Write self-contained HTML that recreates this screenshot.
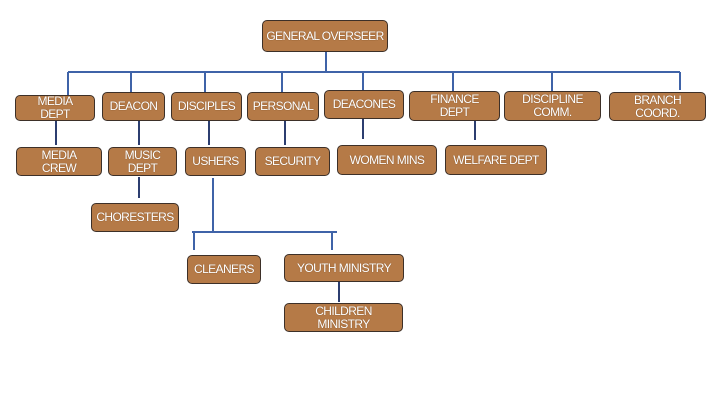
<!DOCTYPE html>
<html><head><style>
body{margin:0;width:720px;height:405px;background:#fff;position:relative;overflow:hidden;font-family:"Liberation Sans",sans-serif}
.b{position:absolute;box-sizing:border-box;background:#b57a47;border:1.5px solid #3d3028;border-radius:5px;color:#fff;font-size:12px;letter-spacing:-0.6px;display:flex;align-items:center;justify-content:center;text-align:center;line-height:13px;text-shadow:0 0 1px #6b4423;white-space:nowrap}
svg{position:absolute;left:0;top:0}
</style></head><body>
<svg width="720" height="405">
<g stroke="#3f63a8" stroke-width="2" fill="none">
<path d="M326 52V72M68 72H680"/>
<path d="M68 72V95M131 72V92M205 72V92M282 72V92M363 72V90M453 72V91M552 72V91M680 72V90"/>
</g>
<g stroke="#2c3e70" stroke-width="2" fill="none">
<path d="M56 121V145M139 121V145M209 121V145M285 121V145M363 119V139M475 121V140M139 177V198M339 282V302"/>
</g>
<g stroke="#3f63a8" stroke-width="2" fill="none">
<path d="M213 178V232M192 232H337M194 232V250M332 232V250"/>
</g>
</svg>
<div class="b" style="left:262px;top:20px;width:126px;height:32px">GENERAL OVERSEER</div>
<div class="b" style="left:15px;top:95px;width:80px;height:26px">MEDIA<br>DEPT</div>
<div class="b" style="left:102px;top:92px;width:63px;height:29px">DEACON</div>
<div class="b" style="left:171px;top:92px;width:71px;height:29px">DISCIPLES</div>
<div class="b" style="left:247px;top:92px;width:72px;height:29px">PERSONAL</div>
<div class="b" style="left:324px;top:90px;width:80px;height:29px">DEACONES</div>
<div class="b" style="left:409px;top:91px;width:91px;height:30px">FINANCE<br>DEPT</div>
<div class="b" style="left:504px;top:91px;width:97px;height:30px">DISCIPLINE<br>COMM.</div>
<div class="b" style="left:609px;top:92px;width:97px;height:29px">BRANCH<br>COORD.</div>
<div class="b" style="left:16px;top:147px;width:86px;height:29px">MEDIA<br>CREW</div>
<div class="b" style="left:108px;top:147px;width:69px;height:29px">MUSIC<br>DEPT</div>
<div class="b" style="left:185px;top:147px;width:61px;height:29px">USHERS</div>
<div class="b" style="left:255px;top:147px;width:75px;height:29px">SECURITY</div>
<div class="b" style="left:337px;top:145px;width:100px;height:30px">WOMEN MINS</div>
<div class="b" style="left:445px;top:145px;width:102px;height:30px">WELFARE DEPT</div>
<div class="b" style="left:91px;top:203px;width:88px;height:29px">CHORESTERS</div>
<div class="b" style="left:187px;top:255px;width:74px;height:29px">CLEANERS</div>
<div class="b" style="left:284px;top:254px;width:120px;height:28px">YOUTH MINISTRY</div>
<div class="b" style="left:284px;top:303px;width:119px;height:29px">CHILDREN<br>MINISTRY</div>
</body></html>
